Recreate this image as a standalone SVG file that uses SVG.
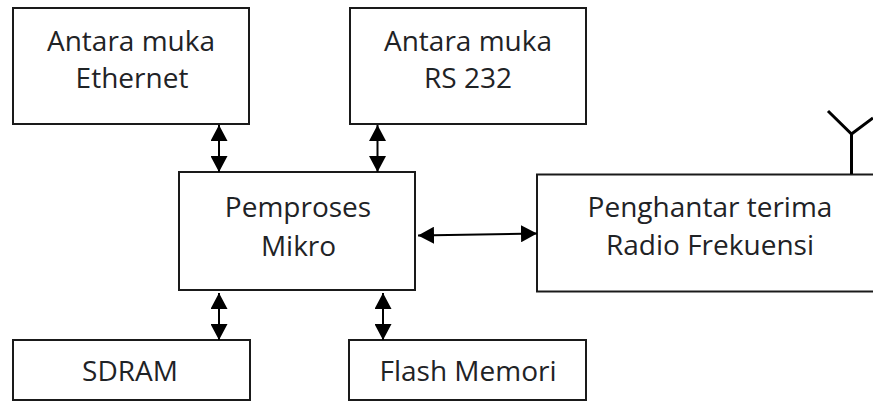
<svg xmlns="http://www.w3.org/2000/svg" width="873" height="403" viewBox="0 0 873 403">
<style>
.b{fill:#fff;stroke:#1a1a1a;stroke-width:2}
.t{font-family:"Open Sans","Noto Sans",sans-serif;font-size:28px;fill:#1f2326;text-anchor:middle}
.c{fill:none;stroke:#000;stroke-width:3}
.a{fill:none;stroke:#000;stroke-width:2;marker-start:url(#h);marker-end:url(#h)}
</style>
<defs>
<marker id="h" markerUnits="userSpaceOnUse" markerWidth="17" markerHeight="17" refX="16" refY="8.5" orient="auto-start-reverse"><path d="M0 0L16 8.5L0 17z" fill="#000"/></marker>
</defs>
<rect width="873" height="403" fill="#fff"/>
<g id="node-ethernet"><rect class="b" x="13" y="8" width="236" height="116"/><text class="t" x="131" y="51">Antara muka</text><text class="t" x="132" y="88">Ethernet</text></g>
<g id="node-rs232"><rect class="b" x="350" y="8" width="236" height="116"/><text class="t" x="468" y="51">Antara muka</text><text class="t" x="468" y="88">RS 232</text></g>
<g id="node-mikro"><rect class="b" x="179" y="172" width="236" height="118"/><text class="t" x="298" y="217">Pemproses</text><text class="t" x="298.500" y="256">Mikro</text></g>
<g id="node-radio"><rect class="b" x="537" y="174.500" width="340" height="117"/><text class="t" x="710" y="217">Penghantar terima</text><text class="t" x="710" y="255">Radio Frekuensi</text></g>
<g id="node-sdram"><rect class="b" x="13" y="340" width="237" height="60"/><text class="t" x="130" y="381">SDRAM</text></g>
<g id="node-flash"><rect class="b" x="349" y="340" width="237" height="60"/><text class="t" x="468" y="381">Flash Memori</text></g>
<g id="antenna"><path class="c" d="M851.500 174V134M828 111L851.500 134L873 118"/></g>
<g id="connectors">
<path class="a" d="M219 125V172"/>
<path class="a" d="M377.500 125V172"/>
<path class="a" d="M219 293V340"/>
<path class="a" d="M383 293V340"/>
<path class="a" d="M418 235.500L537 233.500"/>
</g>
</svg>
